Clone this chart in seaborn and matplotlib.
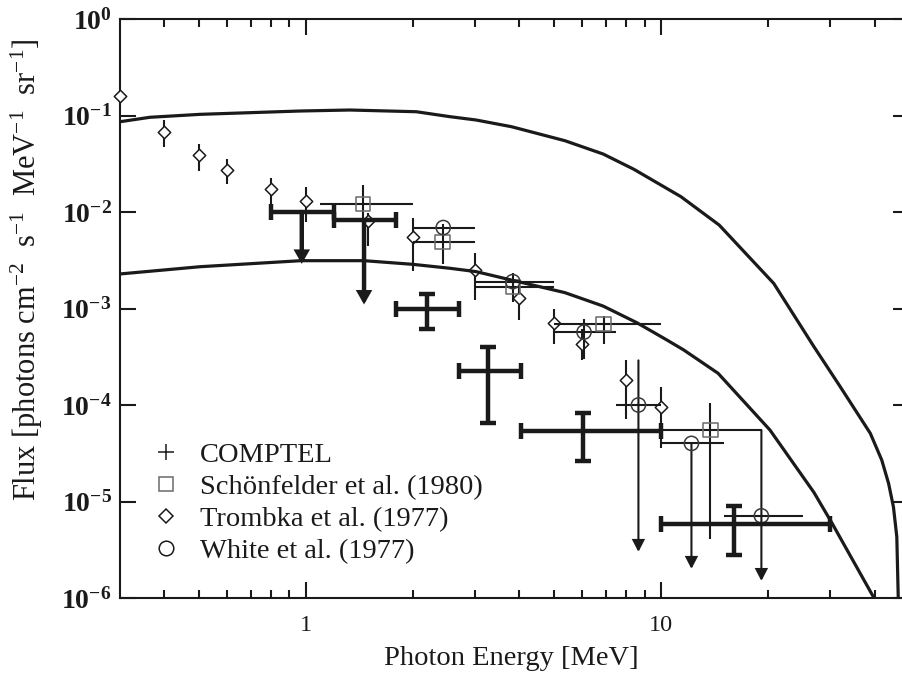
import numpy as np
import matplotlib
matplotlib.use('Agg')
import matplotlib.pyplot as plt
import seaborn as sns
from matplotlib.lines import Line2D
from matplotlib.ticker import FixedLocator, NullLocator, FuncFormatter

# ---------------- data ----------------
# Model curves
E_upper = [0.30, 0.364, 0.504, 0.963, 1.33, 2.05, 2.55, 3.02, 3.8, 5.37, 6.88, 8.4,
           11.4, 14.6, 20.8, 26.9, 32.0, 38.9, 41.9, 43.8, 45.2, 46.2, 46.7]
F_upper = [0.0862, 0.0958, 0.1028, 0.1113, 0.114, 0.1094, 0.0972, 0.0898, 0.0765,
           0.0548, 0.0399, 0.0277, 0.0144, 0.00733, 0.00182, 4.1e-4,
           1.55e-4, 5.09e-5, 2.69e-5, 1.54e-5, 8.8e-6, 4.3e-6, 8e-7]
E_lower = [0.30, 0.504, 0.97, 1.46, 2.0, 2.55, 3.02, 3.8, 5.37, 6.88, 8.56, 10.4,
           11.6, 14.5, 20.3, 23.1, 27.0, 30.4, 40.5]
F_lower = [0.00228, 0.00271, 0.00313, 0.00313, 0.00287, 0.00261, 0.00241, 0.00197,
           0.00146, 0.00106, 7.13e-4, 4.72e-4, 3.72e-4, 2.13e-4, 5.5e-5, 2.8e-5,
           1.24e-5, 5.9e-6, 9e-7]

# COMPTEL
E_c = [0.975, 1.46, 2.2, 3.27, 6.05, 16.1]
F_c = [0.0100, 0.0082, 0.00099, 2.25e-4, 5.4e-5, 5.9e-6]
Elo_c = [0.80, 1.20, 1.80, 2.70, 4.04, 10.0]
Ehi_c = [1.20, 1.80, 2.70, 4.04, 10.0, 30.0]
Fhi_c = [0.0100, 0.0082, 0.0014, 3.96e-4, 8.3e-5, 9.06e-6]
Flo_c = [0.0029, 0.0011, 0.00061, 6.56e-5, 2.65e-5, 2.79e-6]
lim_c = [True, True, False, False, False, False]

# Schoenfelder et al. (1980)
E_s = [1.45, 2.43, 3.83, 6.9, 13.8]
F_s = [0.0121, 0.00485, 0.00168, 0.00069, 5.5e-5]
Elo_s = [1.10, 2.0, 3.0, 5.0, 10.0]
Ehi_s = [2.0, 3.0, 5.0, 10.0, 19.3]
Fhi_s = [0.019, 0.0076, 0.00232, 0.00084, 1.04e-4]
Flo_s = [0.0082, 0.00287, 0.00118, 0.00043, 4.06e-6]

# Trombka et al. (1977)
E_t = [0.30, 0.40, 0.50, 0.60, 0.80, 1.0, 1.5, 2.0, 3.0, 4.0, 5.0, 6.0, 8.0, 10.0]
F_t = [0.160, 0.067, 0.039, 0.027, 0.0172, 0.013, 0.0081, 0.0055, 0.0025, 0.0013,
       0.0007, 0.00043, 0.00018, 9.6e-5]
Fhi_t = [0.160, 0.090, 0.0507, 0.0352, 0.0223, 0.0183, 0.0097, 0.0086, 0.0038,
         0.0017, 0.00100, 0.00062, 0.00029, 1.55e-4]
Flo_t = [0.160, 0.047, 0.0268, 0.0194, 0.0121, 0.0079, 0.0044, 0.00245, 0.00122,
         0.00076, 0.00043, 0.00029, 7.1e-5, 3.56e-5]

# White et al. (1977)
E_w = [2.44, 3.83, 6.08, 8.65, 12.2, 19.2]
F_w = [0.0069, 0.0019, 0.00057, 1.0e-4, 4.0e-5, 7.1e-6]
Elo_w = [2.0, 3.0, 5.0, 7.5, 10.0, 15.1]
Ehi_w = [3.0, 5.0, 7.5, 10.0, 15.1, 25.2]
Fhi_w = [0.0069, 0.0019, 0.00078, 2.9e-4, 4.0e-5, 5.5e-5]
Flo_w = [0.0069, 0.0019, 0.00030, 3.0e-6, 2.0e-6, 1.5e-6]
lim_w = [False, False, False, True, True, True]

legend_labels = ['COMPTEL', 'Schönfelder et al. (1980)',
                 'Trombka et al. (1977)', 'White et al. (1977)']
x_major = [1, 10]
x_minor = [0.4, 0.5, 0.6, 0.7, 0.8, 0.9, 2, 3, 4, 5, 6, 7, 8, 9, 20, 30, 40]
y_major = [1e-6, 1e-5, 1e-4, 1e-3, 1e-2, 1e-1, 1e0]

# ---------------- style ----------------
sns.set_theme(style='ticks')
plt.rcParams['font.family'] = ['Liberation Serif', 'DejaVu Serif']
plt.rcParams['mathtext.fontset'] = 'custom'
plt.rcParams['mathtext.rm'] = 'Liberation Serif'
plt.rcParams['mathtext.it'] = 'Liberation Serif:italic'
plt.rcParams['mathtext.bf'] = 'Liberation Serif:bold'
plt.rcParams['axes.linewidth'] = 1.5
for k in ['text.color', 'axes.labelcolor', 'xtick.color', 'ytick.color',
          'axes.edgecolor']:
    plt.rcParams[k] = 'black'

fig = plt.figure(figsize=(9.02, 6.79), dpi=100)
ax = fig.add_axes([120 / 902, 1 - 598 / 679, (909 - 120) / 902, (598 - 19) / 679])
ax.set_xscale('log')
ax.set_yscale('log')
ax.set_xlim(0.3, 50)
ax.set_ylim(1e-6, 1)

SQ_C = '#6a6a6a'
CI_C = '#3a3a3a'


def arr(a):
    return np.asarray(a, dtype=float)


def arrow(x, y0, y1, lw, hl, hw, z):
    ax.annotate('', xy=(x, y1), xytext=(x, y0), xycoords='data',
                arrowprops=dict(arrowstyle=f'-|>,head_length={hl},head_width={hw}',
                                lw=lw, color='k', shrinkA=0, shrinkB=0,
                                mutation_scale=1, joinstyle='miter'),
                zorder=z, annotation_clip=False)


# model curves
sns.lineplot(x=E_upper, y=F_upper, sort=False, estimator=None, color='k', lw=2.3,
             ax=ax, zorder=6)
sns.lineplot(x=E_lower, y=F_lower, sort=False, estimator=None, color='k', lw=2.3,
             ax=ax, zorder=6)

# Trombka
Et, Ft = arr(E_t), arr(F_t)
ax.errorbar(Et, Ft, yerr=[Ft - arr(Flo_t), arr(Fhi_t) - Ft], fmt='none', ecolor='k',
            elinewidth=1.5, capsize=0, zorder=2)
sns.scatterplot(x=E_t, y=F_t, marker='D', s=40, facecolor='white', edgecolor='k',
                linewidth=1.1, ax=ax, zorder=3, clip_on=False)

# Schoenfelder
Es, Fs = arr(E_s), arr(F_s)
ax.errorbar(Es, Fs, xerr=[Es - arr(Elo_s), arr(Ehi_s) - Es],
            yerr=[Fs - arr(Flo_s), arr(Fhi_s) - Fs], fmt='none', ecolor='k',
            elinewidth=1.5, capsize=0, zorder=4)
sns.scatterplot(x=E_s, y=F_s, marker='s', s=105, facecolor='none', edgecolor=SQ_C,
                linewidth=1.1, ax=ax, zorder=5)

# White
Ew, Fw = arr(E_w), arr(F_w)
ax.errorbar(Ew, Fw, xerr=[Ew - arr(Elo_w), arr(Ehi_w) - Ew], fmt='none', ecolor='k',
            elinewidth=1.5, capsize=0, zorder=4)
for e, f, hi, lo, lim in zip(E_w, F_w, Fhi_w, Flo_w, lim_w):
    if lim:
        arrow(e, hi, lo, 1.5, 7.0, 3.6, 4)
    elif hi != lo:
        ax.errorbar([e], [f], yerr=[[f - lo], [hi - f]], fmt='none', ecolor='k',
                    elinewidth=1.5, capsize=0, zorder=4)
sns.scatterplot(x=E_w, y=F_w, marker='o', s=105, facecolor='none', edgecolor=CI_C,
                linewidth=1.1, ax=ax, zorder=5)

# COMPTEL
Ec, Fc = arr(E_c), arr(F_c)
ax.errorbar(Ec, Fc, xerr=[Ec - arr(Elo_c), arr(Ehi_c) - Ec], fmt='none', ecolor='k',
            elinewidth=3.2, capsize=5.8, capthick=3.2, zorder=7)
for e, f, hi, lo, lim in zip(E_c, F_c, Fhi_c, Flo_c, lim_c):
    if lim:
        arrow(e, f, lo, 3.2, 5.6, 3.2, 7)
    else:
        ax.errorbar([e], [f], yerr=[[f - lo], [hi - f]], fmt='none', ecolor='k',
                    elinewidth=3.2, capsize=5.8, capthick=3.2, zorder=7)

# ---------------- axes cosmetics ----------------
for sp in ax.spines.values():
    sp.set_visible(True)
    sp.set_color('k')
    sp.set_linewidth(1.5)
ax.xaxis.set_major_locator(FixedLocator(x_major))
ax.xaxis.set_minor_locator(FixedLocator(x_minor))
ax.yaxis.set_major_locator(FixedLocator(y_major))
ax.yaxis.set_minor_locator(NullLocator())
ax.xaxis.set_major_formatter(FuncFormatter(lambda v, p: f'{v:g}'))
ax.xaxis.set_minor_formatter(FuncFormatter(lambda v, p: ''))
ax.yaxis.set_major_formatter(
    FuncFormatter(lambda v, p: r'$\mathbf{10^{%d}}$' % int(round(np.log10(v)))))
ax.tick_params(which='both', direction='in', top=True, right=True, width=1.5,
               color='k', labelcolor='k')
ax.tick_params(which='major', length=11.5)
ax.tick_params(which='minor', length=6)
ax.tick_params(axis='x', which='major', pad=12.5, labelsize=17.5)
ax.tick_params(axis='y', which='major', pad=6, labelsize=20)

ax.set_xlabel('Photon Energy [MeV]', fontsize=20.5, color='k')
ax.set_ylabel('Flux [photons cm$^{-2}$  s$^{-1}$  MeV$^{-1}$  sr$^{-1}$]',
              fontsize=22, color='k')
ax.xaxis.set_label_coords(0.4956, -0.0836)
ax.yaxis.set_label_coords(-0.095, 0.566)

handles = [
    Line2D([], [], ls='none', marker='+', ms=11, mew=1.1, color='k'),
    Line2D([], [], ls='none', marker='s', ms=10, mfc='none', mec=SQ_C, mew=1.1),
    Line2D([], [], ls='none', marker='D', ms=7, mfc='none', mec='k', mew=1.1),
    Line2D([], [], ls='none', marker='o', ms=10.5, mfc='none', mec='k', mew=1.1),
]
ax.legend(handles, legend_labels, loc='upper left', bbox_to_anchor=(0.0406, 0.2694),
          frameon=False, fontsize=20.5, handlelength=0.98, handletextpad=0.70,
          labelspacing=0.215, borderpad=0, borderaxespad=0, labelcolor='k')

fig.savefig('out.png', dpi=100)
